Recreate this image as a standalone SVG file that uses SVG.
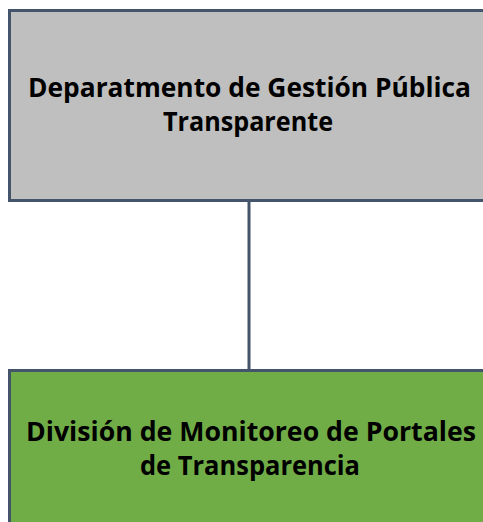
<svg xmlns="http://www.w3.org/2000/svg" width="483" height="522" viewBox="0 0 483 522">
<style>
.box{stroke:#44546a;stroke-width:3}
.lbl{font-family:"Open Sans","Liberation Sans",sans-serif;font-weight:bold;font-size:26px;fill:#000;text-anchor:middle}
.conn{stroke:#44546a;stroke-width:3;fill:none}
</style>
<rect width="483" height="522" fill="#ffffff"/>
<g id="connectors">
<line class="conn" x1="249" y1="201" x2="249" y2="370"/>
</g>
<g id="node-departamento">
<rect class="box" x="9.5" y="10.5" width="480" height="190" fill="#bfbfbf"/>
<text class="lbl" x="249.5" y="96.5" textLength="443" lengthAdjust="spacingAndGlyphs">Deparatmento de Gestión Pública</text>
<text class="lbl" x="248" y="131" textLength="170" lengthAdjust="spacingAndGlyphs">Transparente</text>
</g>
<g id="node-division">
<rect class="box" x="9.5" y="370.5" width="480" height="160" fill="#70ad47"/>
<text class="lbl" x="251" y="441" textLength="450" lengthAdjust="spacingAndGlyphs">División de Monitoreo de Portales</text>
<text class="lbl" x="250" y="475" textLength="220" lengthAdjust="spacingAndGlyphs">de Transparencia</text>
</g>
</svg>
